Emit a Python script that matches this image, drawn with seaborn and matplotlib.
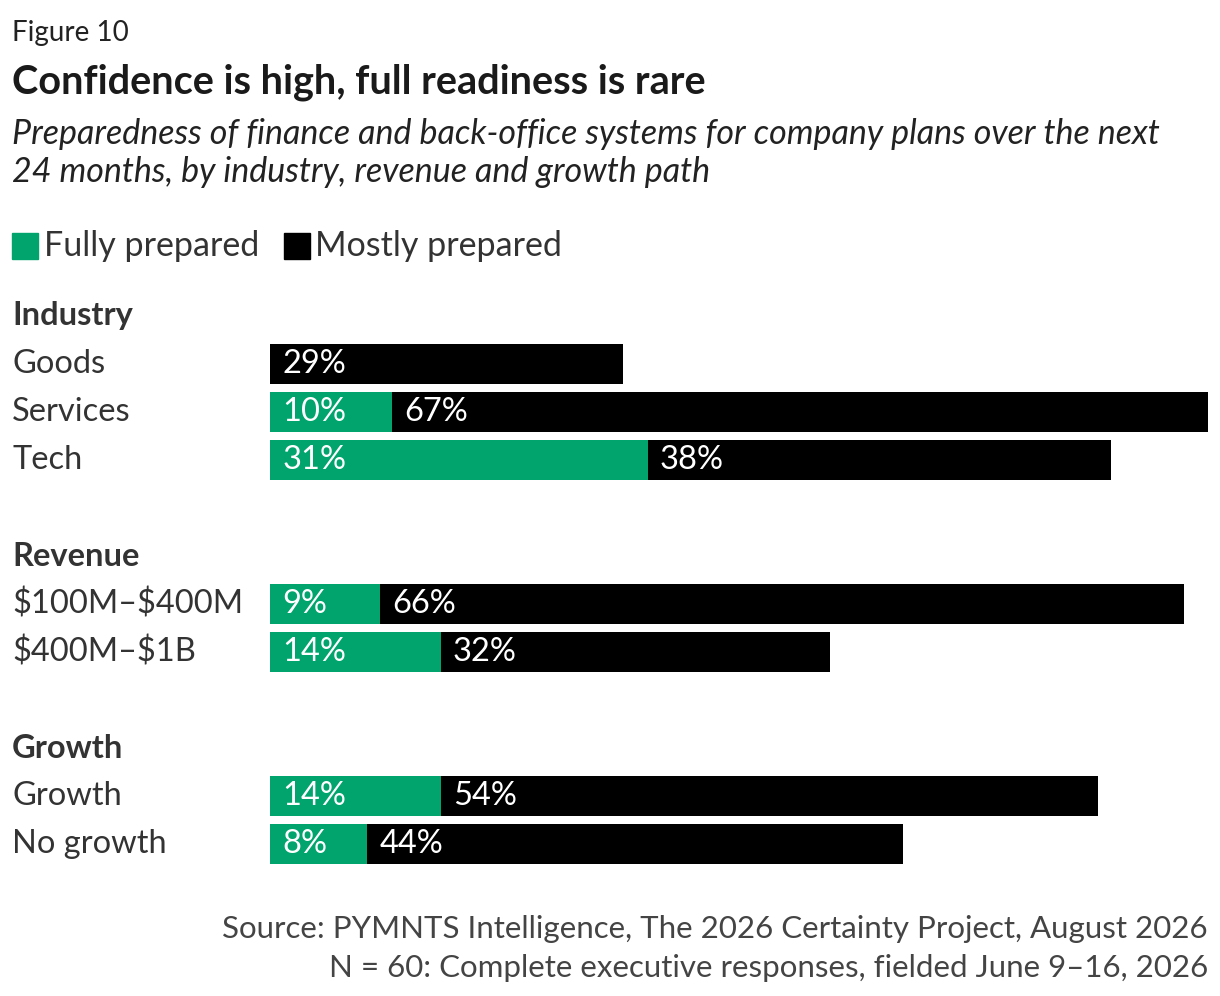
import pandas as pd
import matplotlib.pyplot as plt
import seaborn as sns

rows = ["Goods", "Services", "Tech", "\\$100M–\\$400M", "\\$400M–\\$1B", "Growth", "No growth"]
fully = [0, 10, 31, 9, 14, 14, 8]
mostly = [29, 67, 38, 66, 32, 54, 44]
headers = {"Industry": 0, "Revenue": 5, "Growth ": 9}
slots = ["Industry", "Goods", "Services", "Tech", "gap1", "Revenue", "\\$100M–\\$400M",
         "\\$400M–\\$1B", "gap2", "Growth ", "Growth", "No growth"]

GREEN = "#00a46c"
sns.set_style("white")
plt.rcParams["font.family"] = ["Lato", "DejaVu Sans"]

df = pd.DataFrame({"row": rows, "fully": fully, "mostly": mostly})
df["total"] = df["fully"] + df["mostly"]

fig = plt.figure(figsize=(12.2, 9.96), dpi=100)
ax = fig.add_axes([270 / 1220, 1 - 868 / 996, 938 / 1220, 576 / 996])
sns.barplot(data=df, x="total", y="row", order=slots, color="black", width=0.83,
            orient="h", ax=ax, saturation=1, linewidth=0)
sns.barplot(data=df, x="fully", y="row", order=slots, color=GREEN, width=0.83,
            orient="h", ax=ax, saturation=1, linewidth=0)
ax.set_xlim(0, 77)
ax.set_ylim(11.5, -0.5)
ax.axis("off")

for _, r in df.iterrows():
    y = slots.index(r["row"])
    if r["fully"] > 0:
        ax.text(1, y, f"{r['fully']}%", color="white", fontsize=23.5, va="center")
    ax.text(r["fully"] + 1, y, f"{r['mostly']}%", color="white", fontsize=23.5, va="center")

for i, s in enumerate(slots):
    if s.startswith("gap"):
        continue
    ypx = 316 + 48 * i
    bold = s in headers
    fig.text(12 / 1220, 1 - ypx / 996, s.strip(), fontsize=23.5, va="center",
             fontweight="bold" if bold else "normal", color="#333333")

fig.text(12 / 1220, 1 - 33 / 996, "Figure 10", fontsize=20, va="center", color="#222222")
fig.text(12 / 1220, 1 - 82 / 996, "Confidence is high, full readiness is rare", fontsize=28.5,
         fontweight="bold", va="center", color="#1a1a1a")
fig.text(12 / 1220, 1 - 153 / 996,
         "Preparedness of finance and back-office systems for company plans over the next\n"
         "24 months, by industry, revenue and growth path",
         fontsize=24.5, style="italic", va="center", color="#222222", linespacing=1.2)

# legend
fig.patches.append(plt.Rectangle((12 / 1220, 1 - 259 / 996), 26 / 1220, 26 / 996,
                                 transform=fig.transFigure, color=GREEN))
fig.text(44 / 1220, 1 - 246 / 996, "Fully prepared", fontsize=24.5, va="center", color="#333333")
fig.patches.append(plt.Rectangle((284 / 1220, 1 - 259 / 996), 26 / 1220, 26 / 996,
                                 transform=fig.transFigure, color="black"))
fig.text(315 / 1220, 1 - 246 / 996, "Mostly prepared", fontsize=24.5, va="center", color="#333333")

fig.text(1208 / 1220, 1 - 929 / 996, "Source: PYMNTS Intelligence, The 2026 Certainty Project, August 2026",
         fontsize=22.5, ha="right", va="center", color="#444444")
fig.text(1208 / 1220, 1 - 968 / 996, "N = 60: Complete executive responses, fielded June 9–16, 2026",
         fontsize=22.5, ha="right", va="center", color="#444444")

fig.savefig("out.png", dpi=100)
